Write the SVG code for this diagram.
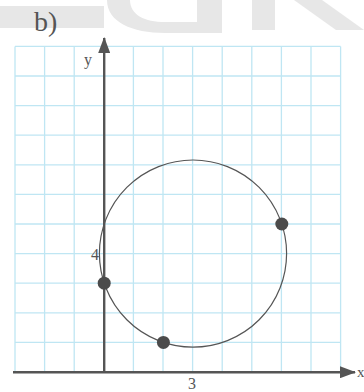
<svg xmlns="http://www.w3.org/2000/svg" width="364" height="392" viewBox="0 0 364 392">
<style>
.wm{fill:#e7e7e7}
.grid line{stroke:#bfe6f3;stroke-width:1.3}
.axis{stroke:#555;stroke-width:2.4;fill:none}
.curve{stroke:#555;stroke-width:1.2;fill:none}
.dot{fill:#4b4b4b}
.lbl{font-family:"Liberation Serif","DejaVu Serif",serif;fill:#555}
</style>
<defs>
<marker id="arr" viewBox="0 0 16 12" refX="15" refY="6" markerWidth="16" markerHeight="12" markerUnits="userSpaceOnUse" orient="auto">
<path d="M0,0 L16,6 L0,12 Z" fill="#555"/>
</marker>
</defs>
<rect width="364" height="392" fill="#fff"/>
<g id="watermark">
<rect class="wm" x="0" y="6" width="104" height="22"/>
<path class="wm" d="M107,0 C107,22 132,33 165,33 L222,33 L222,0 L197,0 L197,22 L165,22 C145,22 130,15 130,0 Z"/>
<rect class="wm" x="252" y="0" width="23" height="30"/>
<polygon class="wm" points="294,0 322,0 364,30 336,30"/>
</g>
<g id="grid" class="grid">
<line x1="15" y1="46.4" x2="15" y2="372"/>
<line x1="44.6" y1="46.4" x2="44.6" y2="372"/>
<line x1="74.2" y1="46.4" x2="74.2" y2="372"/>
<line x1="133.4" y1="46.4" x2="133.4" y2="372"/>
<line x1="163" y1="46.4" x2="163" y2="372"/>
<line x1="192.6" y1="46.4" x2="192.6" y2="372"/>
<line x1="222.2" y1="46.4" x2="222.2" y2="372"/>
<line x1="251.8" y1="46.4" x2="251.8" y2="372"/>
<line x1="281.4" y1="46.4" x2="281.4" y2="372"/>
<line x1="311" y1="46.4" x2="311" y2="372"/>
<line x1="340.6" y1="46.4" x2="340.6" y2="372"/>
<line x1="15" y1="46.4" x2="340.6" y2="46.4"/>
<line x1="15" y1="76" x2="340.6" y2="76"/>
<line x1="15" y1="105.6" x2="340.6" y2="105.6"/>
<line x1="15" y1="135.2" x2="340.6" y2="135.2"/>
<line x1="15" y1="164.8" x2="340.6" y2="164.8"/>
<line x1="15" y1="194.4" x2="340.6" y2="194.4"/>
<line x1="15" y1="224" x2="340.6" y2="224"/>
<line x1="15" y1="253.6" x2="340.6" y2="253.6"/>
<line x1="15" y1="283.2" x2="340.6" y2="283.2"/>
<line x1="15" y1="312.8" x2="340.6" y2="312.8"/>
<line x1="15" y1="342.4" x2="340.6" y2="342.4"/>
</g>
<g id="axes">
<line class="axis" x1="13" y1="372.2" x2="355" y2="372.2" marker-end="url(#arr)"/>
<line class="axis" x1="104.2" y1="372.2" x2="104.2" y2="38" marker-end="url(#arr)"/>
</g>
<g id="circle">
<circle class="curve" cx="193" cy="253.6" r="93.6"/>
</g>
<g id="points">
<circle class="dot" cx="104.2" cy="283.2" r="6.5"/>
<circle class="dot" cx="163.4" cy="342.4" r="6.5"/>
<circle class="dot" cx="281.8" cy="224" r="6.5"/>
</g>
<g id="labels">
<text class="lbl" x="34" y="31" font-size="28">b)</text>
<text class="lbl" x="84" y="65" font-size="16">y</text>
<text class="lbl" x="91" y="260" font-size="16">4</text>
<text class="lbl" x="192" y="389" font-size="16" text-anchor="middle">3</text>
<text class="lbl" x="357" y="377" font-size="15">x</text>
</g>
</svg>
